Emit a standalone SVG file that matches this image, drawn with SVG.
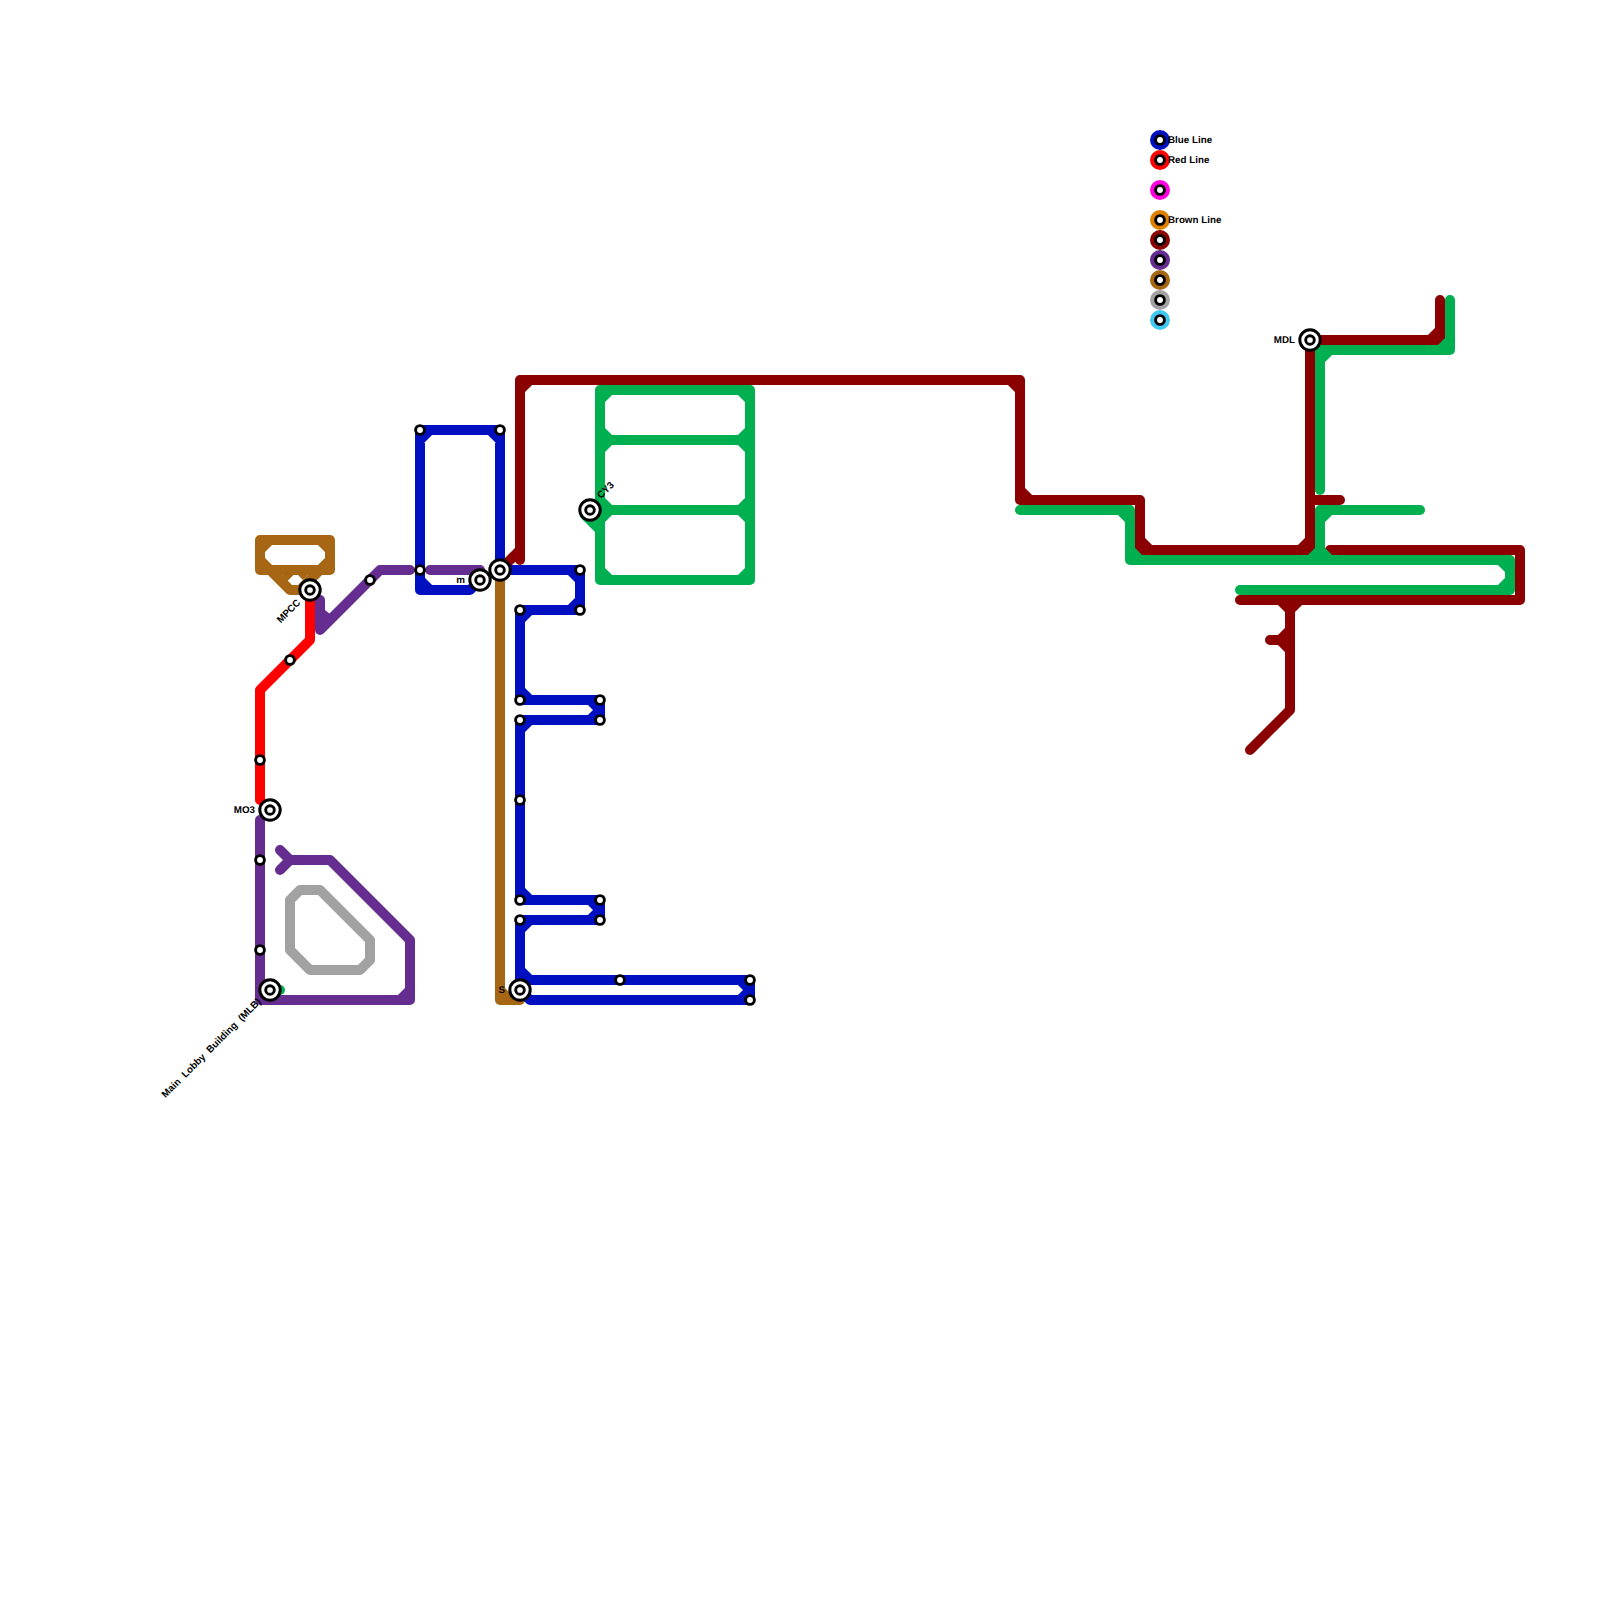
<svg xmlns="http://www.w3.org/2000/svg" width="1600" height="1600" viewBox="0 0 1600 1600">
<style>
.l{fill:none;stroke-width:10;stroke-linecap:round;stroke-linejoin:round}
.blue{stroke:#0010c0}.red{stroke:#ff0000}.dred{stroke:#8b0000}.purple{stroke:#662d91}.brown{stroke:#a66614}.gray{stroke:#a2a2a2}.green{stroke:#00b050}
.s{fill:#fff;stroke:#000;stroke-width:2.9}
.i{fill:#fff;stroke:#000;stroke-width:3}
.c{fill:#fff;stroke:#000;stroke-width:2.9}
text{font-family:"Liberation Sans",Arial,sans-serif;font-size:9.8px;font-weight:bold;fill:#000;text-rendering:geometricPrecision}
</style>
<rect width="1600" height="1600" fill="#fff"/>
<g id="connectors">
<path class="l gray" d="M290,900L300,890L320,890L370,940L370,960L360,970L310,970L290,950Z"/>
<path class="l brown" d="M500,570L500,1000L520,1000M500,990L510,1000M260,540L330,540L330,570L260,570ZM270,540L260,550M320,540L330,550M330,560L320,570M270,570L260,560M270,570L290,590L310,590M320,570L300,590"/>
<path fill="#a66614" d="M282,575L293.5,575L287,581.5ZM308,575L298,575L303,580Z"/>
<path class="l red" d="M310,590L310,640L260,690L260,800"/>
<path class="l purple" d="M320,600L320,630L380,570L410,570M430,570L480,570M260,820L260,1000L410,1000L410,940L330,860L290,860M280,850L290,860L280,870M410,990L400,1000M270,1000L260,990"/>
<path fill="#662d91" d="M325,610L330,614L325,619Z"/>
<path class="l dred" d="M500,570L520,550L520,380L1020,380L1020,500L1140,500L1140,550L1310,550L1310,340L1440,340L1440,300M520,550L520,560M520,390L530,380M1010,380L1020,390M1020,490L1030,500M1140,540L1150,550M1300,550L1310,540M1430,340L1440,330M1310,500L1340,500M1330,550L1520,550L1520,600L1240,600M1290,600L1290,710L1250,750M1280,600L1290,610L1300,600M1270,640L1290,640M1280,640L1290,630M1280,640L1290,650"/>
<path class="l green" d="M600,390L750,390L750,580L600,580ZM600,440L750,440M600,510L750,510M610,390L600,400M740,390L750,400M600,570L610,580M750,570L740,580M600,430L610,440L600,450M750,430L740,440L750,450M600,500L610,510L600,520M750,500L740,510L750,520M585,515L600,530M590,510L600,510M1020,510L1130,510L1130,560L1510,560L1510,590L1240,590M1120,510L1130,520M1130,550L1140,560M1500,560L1510,570M1510,580L1500,590M1420,510L1320,510L1320,560M1330,510L1320,520M1310,560L1320,550L1330,560M1450,300L1450,350L1320,350L1320,490M1440,350L1450,340M1330,350L1320,360M270,990L280,990"/>
<path class="l blue" d="M500,570L500,430L420,430L420,590L470,590L480,580M490,430L500,440M430,430L420,440M420,580L430,590M500,570L580,570L580,610L520,610L520,700L600,700L600,720L520,720L520,900L600,900L600,920L520,920L520,980L750,980L750,1000L530,1000L520,990M570,570L580,580M580,600L570,610M530,610L520,620M520,690L530,700M590,700L600,710L590,720M530,720L520,730M520,890L530,900M590,900L600,910L590,920M530,920L520,930M520,970L530,980M740,980L750,990L740,1000"/>
</g>
<g id="stations">
<g id="st-420-430"><circle class="s" cx="420" cy="430" r="4.4"/></g>
<g id="st-500-430"><circle class="s" cx="500" cy="430" r="4.4"/></g>
<g id="st-420-570"><circle class="s" cx="420" cy="570" r="4.4"/></g>
<g id="st-370-580"><circle class="s" cx="370" cy="580" r="4.4"/></g>
<g id="st-290-660"><circle class="s" cx="290" cy="660" r="4.4"/></g>
<g id="st-260-760"><circle class="s" cx="260" cy="760" r="4.4"/></g>
<g id="st-260-860"><circle class="s" cx="260" cy="860" r="4.4"/></g>
<g id="st-260-950"><circle class="s" cx="260" cy="950" r="4.4"/></g>
<g id="st-580-570"><circle class="s" cx="580" cy="570" r="4.4"/></g>
<g id="st-580-610"><circle class="s" cx="580" cy="610" r="4.4"/></g>
<g id="st-520-610"><circle class="s" cx="520" cy="610" r="4.4"/></g>
<g id="st-520-700"><circle class="s" cx="520" cy="700" r="4.4"/></g>
<g id="st-600-700"><circle class="s" cx="600" cy="700" r="4.4"/></g>
<g id="st-520-720"><circle class="s" cx="520" cy="720" r="4.4"/></g>
<g id="st-600-720"><circle class="s" cx="600" cy="720" r="4.4"/></g>
<g id="st-520-800"><circle class="s" cx="520" cy="800" r="4.4"/></g>
<g id="st-520-900"><circle class="s" cx="520" cy="900" r="4.4"/></g>
<g id="st-600-900"><circle class="s" cx="600" cy="900" r="4.4"/></g>
<g id="st-520-920"><circle class="s" cx="520" cy="920" r="4.4"/></g>
<g id="st-600-920"><circle class="s" cx="600" cy="920" r="4.4"/></g>
<g id="st-620-980"><circle class="s" cx="620" cy="980" r="4.4"/></g>
<g id="st-750-980"><circle class="s" cx="750" cy="980" r="4.4"/></g>
<g id="st-750-1000"><circle class="s" cx="750" cy="1000" r="4.4"/></g>
<g id="st-mpcc"><circle class="i" cx="310" cy="590" r="10.2"/><circle class="c" cx="310" cy="590" r="4.3"/><text transform="translate(299,601) rotate(-45)" text-anchor="end" y="3">MPCC</text></g>
<g id="st-mo3"><circle class="i" cx="270" cy="810" r="10.2"/><circle class="c" cx="270" cy="810" r="4.3"/><text x="255" y="812.5" text-anchor="end">MO3</text></g>
<g id="st-mlb"><circle class="i" cx="270" cy="990" r="10.2"/><circle class="c" cx="270" cy="990" r="4.3"/><text transform="translate(259.5,1000) rotate(-45)" text-anchor="end" y="3" word-spacing="3">Main Lobby Building (MLB)</text></g>
<g id="st-m"><circle class="i" cx="480" cy="580" r="10.2"/><circle class="c" cx="480" cy="580" r="4.3"/><text x="465" y="582.5" text-anchor="end">m</text></g>
<g id="st-500-570"><circle class="i" cx="500" cy="570" r="10.2"/><circle class="c" cx="500" cy="570" r="4.3"/></g>
<g id="st-s"><circle class="i" cx="520" cy="990" r="10.2"/><circle class="c" cx="520" cy="990" r="4.3"/><text x="505" y="992.5" text-anchor="end">S</text></g>
<g id="st-cy3"><circle class="i" cx="590" cy="510" r="10.2"/><circle class="c" cx="590" cy="510" r="4.3"/><text transform="translate(599,497) rotate(-45)" y="3">CY3</text></g>
<g id="st-mdl"><circle class="i" cx="1310" cy="340" r="10.2"/><circle class="c" cx="1310" cy="340" r="4.3"/><text x="1295" y="342.5" text-anchor="end">MDL</text></g>
</g>
<g id="legend">
<g id="lg-blue"><circle cx="1160" cy="140" r="10" fill="#0010c0"/><circle class="s" cx="1160" cy="140" r="4.4"/><text x="1168" y="142.5">Blue Line</text></g>
<g id="lg-red"><circle cx="1160" cy="160" r="10" fill="#ff0000"/><circle class="s" cx="1160" cy="160" r="4.4"/><text x="1168" y="162.5">Red Line</text></g>
<g id="lg-magenta"><circle cx="1160" cy="190" r="10" fill="#ff00e0"/><circle class="s" cx="1160" cy="190" r="4.4"/></g>
<g id="lg-orange"><circle cx="1160" cy="220" r="10" fill="#e08000"/><circle class="s" cx="1160" cy="220" r="4.4"/><text x="1168" y="222.5">Brown Line</text></g>
<g id="lg-dred"><circle cx="1160" cy="240" r="10" fill="#8b0000"/><circle class="s" cx="1160" cy="240" r="4.4"/></g>
<g id="lg-purple"><circle cx="1160" cy="260" r="10" fill="#662d91"/><circle class="s" cx="1160" cy="260" r="4.4"/></g>
<g id="lg-brown"><circle cx="1160" cy="280" r="10" fill="#a66614"/><circle class="s" cx="1160" cy="280" r="4.4"/></g>
<g id="lg-gray"><circle cx="1160" cy="300" r="10" fill="#a2a2a2"/><circle class="s" cx="1160" cy="300" r="4.4"/></g>
<g id="lg-sky"><circle cx="1160" cy="320" r="10" fill="#40c8f0"/><circle class="s" cx="1160" cy="320" r="4.4"/></g>
</g>
</svg>
